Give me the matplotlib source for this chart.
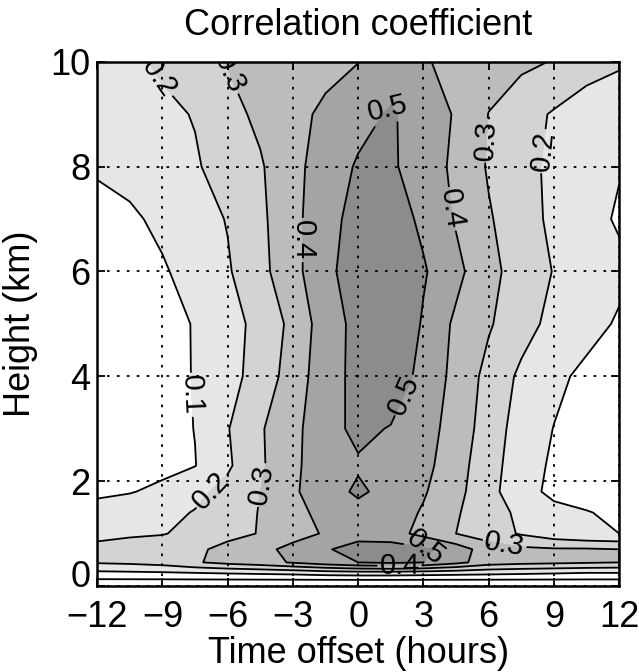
import numpy as np
import matplotlib.pyplot as plt
import matplotlib.transforms as mtransforms

plt.rcParams['font.family'] = ['Liberation Sans', 'DejaVu Sans']

# time offset (hours) and height (km) of the grid
time_offset = [-12, -10.5, -9, -7.5, -6, -4.5, -3, -1.5, 0, 1.5, 3, 4.5, 6, 7.5, 9, 10.5, 12]
height_km = [0, 0.1, 0.25, 0.45, 0.7, 1.0, 1.4, 1.8, 2.3, 3, 4, 5, 6, 7, 8, 9, 10]

# correlation coefficient, one row per height (bottom to top)
corr = [
    [-0.06, -0.06, -0.06, -0.06, -0.06, -0.06, -0.06, -0.06, -0.06, -0.06, -0.06, -0.06, -0.06, -0.06, -0.06, -0.06, -0.06],
    [-0.02, -0.02, -0.02, -0.02, -0.02, -0.02, -0.02, -0.02, -0.02, -0.02, -0.02, -0.02, -0.02, -0.02, -0.02, -0.02, -0.02],
    [0.08, 0.085, 0.09, 0.10, 0.11, 0.12, 0.13, 0.15, 0.16, 0.16, 0.15, 0.14, 0.13, 0.12, 0.11, 0.10, 0.10],
    [0.21, 0.22, 0.24, 0.29, 0.33, 0.36, 0.41, 0.46, 0.50, 0.52, 0.50, 0.43, 0.35, 0.33, 0.32, 0.31, 0.30],
    [0.22, 0.23, 0.25, 0.28, 0.33, 0.37, 0.43, 0.49, 0.54, 0.55, 0.52, 0.45, 0.35, 0.32, 0.31, 0.31, 0.30],
    [0.18, 0.19, 0.195, 0.225, 0.27, 0.305, 0.36, 0.41, 0.46, 0.44, 0.37, 0.30, 0.25, 0.19, 0.14, 0.11, 0.10],
    [0.13, 0.15, 0.175, 0.205, 0.25, 0.305, 0.37, 0.43, 0.47, 0.45, 0.39, 0.31, 0.24, 0.18, 0.13, 0.105, 0.08],
    [0.085, 0.095, 0.12, 0.175, 0.23, 0.30, 0.385, 0.46, 0.515, 0.47, 0.41, 0.33, 0.23, 0.14, 0.075, 0.06, 0.06],
    [0.05, 0.06, 0.075, 0.097, 0.185, 0.285, 0.38, 0.455, 0.49, 0.475, 0.43, 0.34, 0.24, 0.145, 0.085, 0.06, 0.05],
    [0.04, 0.05, 0.065, 0.102, 0.195, 0.29, 0.37, 0.47, 0.52, 0.495, 0.45, 0.35, 0.26, 0.15, 0.098, 0.07, 0.06],
    [0.04, 0.05, 0.065, 0.105, 0.17, 0.235, 0.35, 0.455, 0.53, 0.56, 0.47, 0.37, 0.27, 0.18, 0.12, 0.08, 0.06],
    [0.04, 0.05, 0.07, 0.105, 0.175, 0.22, 0.33, 0.45, 0.53, 0.59, 0.49, 0.38, 0.31, 0.24, 0.17, 0.13, 0.09],
    [0.05, 0.07, 0.09, 0.135, 0.19, 0.27, 0.37, 0.47, 0.56, 0.58, 0.51, 0.43, 0.32, 0.27, 0.195, 0.15, 0.12],
    [0.07, 0.085, 0.12, 0.16, 0.205, 0.28, 0.37, 0.47, 0.53, 0.55, 0.48, 0.39, 0.31, 0.24, 0.18, 0.13, 0.09],
    [0.11, 0.13, 0.16, 0.19, 0.24, 0.29, 0.37, 0.45, 0.51, 0.515, 0.45, 0.38, 0.29, 0.23, 0.18, 0.14, 0.105],
    [0.14, 0.16, 0.18, 0.205, 0.27, 0.32, 0.37, 0.42, 0.47, 0.51, 0.46, 0.39, 0.298, 0.24, 0.19, 0.17, 0.15],
    [0.15, 0.18, 0.215, 0.26, 0.305, 0.33, 0.35, 0.37, 0.398, 0.45, 0.41, 0.37, 0.34, 0.32, 0.295, 0.225, 0.21],
]

fill_levels = [-1, 0.1, 0.2, 0.3, 0.4, 0.5, 1]
fill_colors = ['white', '#e6e6e6', '#d3d3d3', '#bcbcbc', '#a4a4a4', '#8c8c8c']
label_levels = [0.1, 0.2, 0.3, 0.4, 0.5]
zero_level = [0.0]

# where the inline labels sit (near these points)
label_spots = [(-9.3, 9.65), (-6.1, 9.75), (-2.7, 6.6), (1.4, 9.1), (4.45, 7.2),
               (5.85, 8.5), (8.4, 8.3), (-7.5, 3.65), (-6.8, 1.83), (-4.5, 1.93),
               (1.8, 3.7), (3.1, 0.72), (6.75, 0.85), (1.9, 0.4)]

fig = plt.figure(figsize=(6.39, 6.72), dpi=100)
ax = fig.add_axes([0.152, 0.128, 0.817, 0.780])

ax.contourf(time_offset, height_km, corr, levels=fill_levels, colors=fill_colors)
ax.contour(time_offset, height_km, corr, levels=zero_level, colors='k', linewidths=1.3)
cs = ax.contour(time_offset, height_km, corr, levels=label_levels, colors='k', linewidths=1.3)
ax.clabel(cs, manual=label_spots, fmt='%.1f', fontsize=21, inline=True, inline_spacing=2)

ax.set_xlim(-12, 12)
ax.set_ylim(0, 10)
ax.set_xticks(np.arange(-12, 13, 3))
ax.set_yticks(np.arange(0, 11, 2))
ax.grid(True, color='k', linestyle=(0, (1.5, 4)), linewidth=1.3)
ax.tick_params(direction='in', top=True, right=True, length=6, width=1.3,
               labelsize=26, pad=5)
ax.tick_params(axis='x', pad=10)
for sp in ax.spines.values():
    sp.set_linewidth(1.8)

# lift the "0" on the y axis a little, as in the original
lift = mtransforms.ScaledTranslation(0, 9 / 72, fig.dpi_scale_trans)
ylab0 = ax.get_yticklabels()[0]
ylab0.set_transform(ylab0.get_transform() + lift)

ax.set_title('Correlation coefficient', fontsize=26, pad=19)
ax.set_xlabel('Time offset (hours)', fontsize=26, labelpad=1)
ax.set_ylabel('Height (km)', fontsize=26, labelpad=9)

fig.savefig('out.png', dpi=100)
